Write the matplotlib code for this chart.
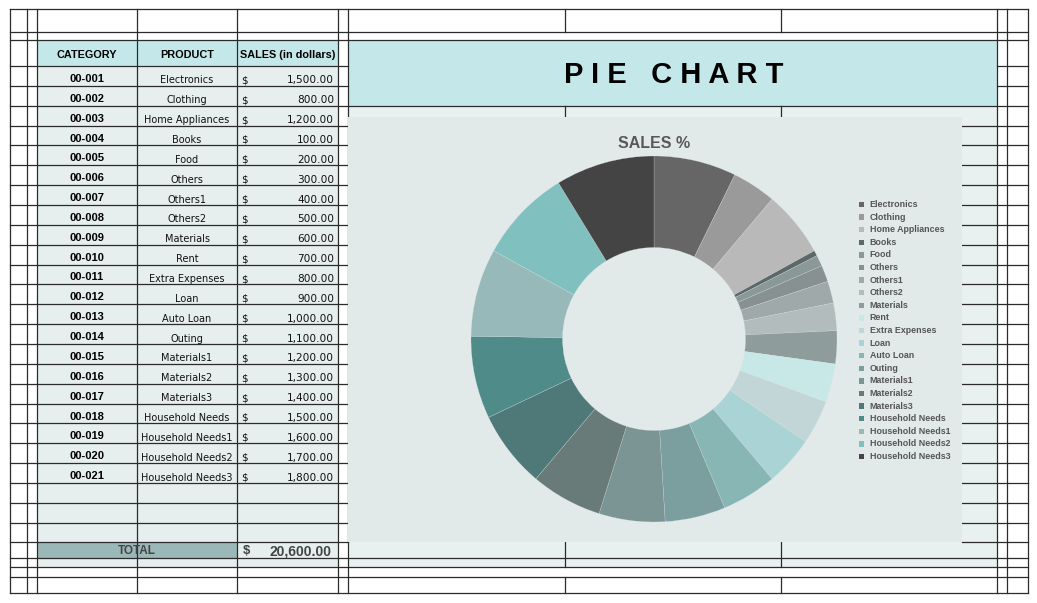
import matplotlib
matplotlib.use("Agg")
import matplotlib.pyplot as plt
from matplotlib.patches import Rectangle

# ---- data ----
categories = ["00-001", "00-002", "00-003", "00-004", "00-005", "00-006", "00-007",
              "00-008", "00-009", "00-010", "00-011", "00-012", "00-013", "00-014",
              "00-015", "00-016", "00-017", "00-018", "00-019", "00-020", "00-021"]
products = ["Electronics", "Clothing", "Home Appliances", "Books", "Food", "Others",
            "Others1", "Others2", "Materials", "Rent", "Extra Expenses", "Loan",
            "Auto Loan", "Outing", "Materials1", "Materials2", "Materials3",
            "Household Needs", "Household Needs1", "Household Needs2", "Household Needs3"]
sales = [1500, 800, 1200, 100, 200, 300, 400, 500, 600, 700, 800, 900,
         1000, 1100, 1200, 1300, 1400, 1500, 1600, 1700, 1800]
slice_colors = ["#666666", "#9a9a9a", "#b9b9b9", "#5d6868", "#8a9898", "#879191",
                "#a0a9a9", "#b2bcbd", "#8e9c9b", "#c8e8e8", "#c2d6d8", "#a9d3d4",
                "#88b6b5", "#7b9f9f", "#7b9494", "#687b79", "#4f7978", "#4e8b89",
                "#98b9ba", "#80c0bf", "#444444"]

W, H = 1037, 603
fig = plt.figure(figsize=(W / 100, H / 100), dpi=100)
fig.patch.set_facecolor("white")
ax = fig.add_axes([0, 0, 1, 1])
ax.set_xlim(0, W)
ax.set_ylim(H, 0)
ax.axis("off")

line_c = "#2b2b2b"
cols = [10, 27, 37, 137, 237, 338, 348, 565, 781, 997, 1007, 1028]
top, bottom = 9, 593
row0 = 66
row_h = (483 - 66) / 21
row_lines = [row0 + i * row_h for i in range(22)] + [502.5, 522.5, 542]


def rect(x0, y0, x1, y1, color, z=0):
    ax.add_patch(Rectangle((x0, y0), x1 - x0, y1 - y0, facecolor=color,
                           edgecolor="none", zorder=z))


# background fills
rect(37, 66, 338, 567, "#e6eeee")
rect(37, 40, 338, 66, "#c4e8ea")
rect(348, 40, 997, 106, "#c4e8ea")
rect(348, 106, 997, 567, "#e8f0f0")
rect(37, 542, 237, 558, "#9bb8b8", z=1)

# grid lines
for y in [top, 32, 40, 558, 567, 577, bottom]:
    ax.plot([cols[0], cols[-1]], [y, y], color=line_c, lw=0.9, zorder=2)
for y in row_lines:
    ax.plot([cols[0], 348], [y, y], color=line_c, lw=0.9, zorder=2)
    ax.plot([962 if y > 107 else 997, cols[-1]], [y, y], color=line_c, lw=0.9, zorder=2)
ax.plot([348, 997], [106, 106], color=line_c, lw=0.9, zorder=2)
for x in [10, 27, 37, 137, 237, 338, 348, 997, 1007, 1028]:
    ax.plot([x, x], [top, bottom], color=line_c, lw=0.9, zorder=2)
for x in [565, 781]:
    for y0, y1 in [(top, 32), (106, 117), (542, 567), (577, bottom)]:
        ax.plot([x, x], [y0, y1], color=line_c, lw=0.9, zorder=2)

# chart background
rect(348, 117, 962, 542, "#e1e9e9", z=3)

# table header
hdr = dict(fontsize=7.8, fontweight="bold", family="Liberation Sans",
           ha="center", va="center", zorder=4)
ax.text(87, 55, "CATEGORY", **hdr)
ax.text(187, 55, "PRODUCT", **hdr)
ax.text(287.5, 55, "SALES (in dollars)", **hdr)

for i, (cat, prod, val) in enumerate(zip(categories, products, sales)):
    yc = row0 + (i + 0.5) * row_h + 4.5
    ax.text(87, yc - 1.5, cat, fontsize=8, fontweight="bold", family="Liberation Sans",
            ha="center", va="center", zorder=4)
    ax.text(187, yc, prod, fontsize=7, family="DejaVu Sans", color="#111111",
            ha="center", va="center", zorder=4)
    ax.text(241, yc, "$", fontsize=7.4, family="DejaVu Sans", color="#111111",
            ha="left", va="center", zorder=4)
    ax.text(334, yc, f"{val:,.2f}", fontsize=7.6, family="DejaVu Sans", color="#111111",
            ha="right", va="center", zorder=4)

ax.text(137, 551, "TOTAL", fontsize=8.5, fontweight="bold", family="Liberation Sans",
        color="#444444", ha="center", va="center", zorder=4)
ax.text(243, 551, "$", fontsize=9.5, fontweight="bold", family="Liberation Sans",
        color="#444444", ha="left", va="center", zorder=4)
ax.text(332, 551, f"{sum(sales):,.2f}", fontsize=10, fontweight="bold",
        family="Liberation Sans", color="#444444", ha="right", va="center", zorder=4)

# banner
ax.text(674, 75, "P I E   C H A R T", fontsize=21, fontweight="bold",
        family="Liberation Sans", ha="center", va="center", zorder=4)

# chart title
ax.text(654, 143, "SALES %", fontsize=11.5, fontweight="bold",
        family=["Liberation Sans Narrow", "Liberation Sans"], color="#595959",
        ha="center", va="center", zorder=4)

# donut
cx, cy, r = 654, 339, 183
pax = fig.add_axes([(cx - r) / W, 1 - (cy + r) / H, 2 * r / W, 2 * r / H])
pax.pie(sales, colors=slice_colors, startangle=90, counterclock=False, radius=1,
        wedgeprops=dict(width=0.5, edgecolor="#dfe8e8", linewidth=0.15))
pax.set_xlim(-1, 1)
pax.set_ylim(-1, 1)
pax.axis("off")

# legend
ly0, lstep = 204.5, 12.6
for i, (prod, c) in enumerate(zip(products, slice_colors)):
    y = ly0 + i * lstep
    rect(858.5, y - 2.7, 864, y + 2.7, c, z=4)
    ax.text(869.5, y, prod, fontsize=6.4, fontweight="bold", family="Liberation Sans",
            color="#555555", ha="left", va="center", zorder=4)

fig.savefig("out.png", dpi=100)
